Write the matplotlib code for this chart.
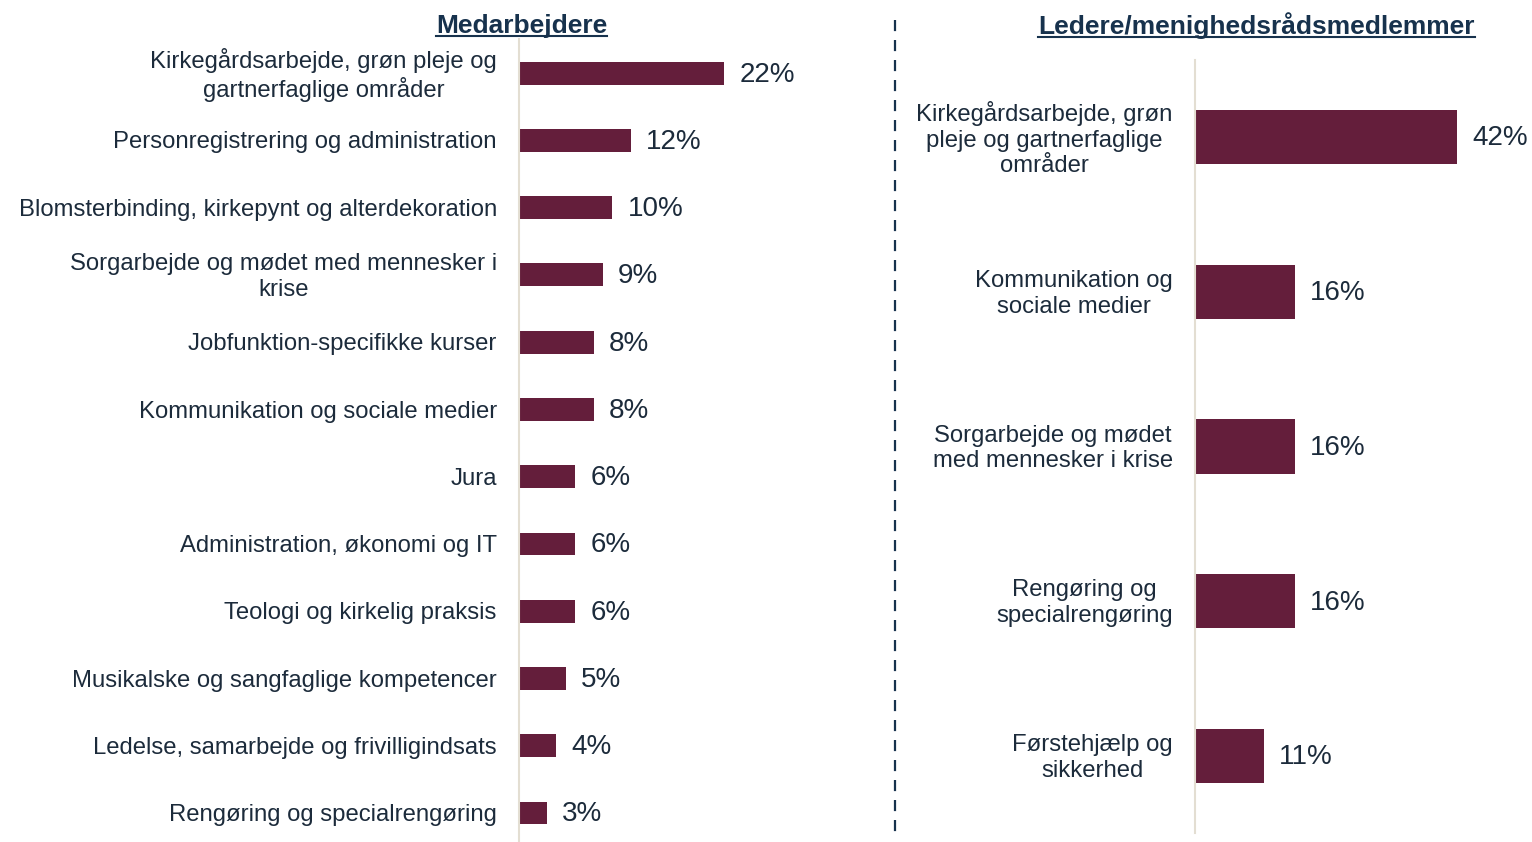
import matplotlib
matplotlib.use("Agg")
import matplotlib.pyplot as plt
from matplotlib.lines import Line2D

plt.rcParams['font.family'] = ['Liberation Sans', 'DejaVu Sans']

# data
left_title = "Medarbejdere"
left_cats = [
    "Kirkegårdsarbejde, grøn pleje og\ngartnerfaglige områder",
    "Personregistrering og administration",
    "Blomsterbinding, kirkepynt og alterdekoration",
    "Sorgarbejde og mødet med mennesker i\nkrise",
    "Jobfunktion-specifikke kurser",
    "Kommunikation og sociale medier",
    "Jura",
    "Administration, økonomi og IT",
    "Teologi og kirkelig praksis",
    "Musikalske og sangfaglige kompetencer",
    "Ledelse, samarbejde og frivilligindsats",
    "Rengøring og specialrengøring",
]
left_vals = [22, 12, 10, 9, 8, 8, 6, 6, 6, 5, 4, 3]

right_title = "Ledere/menighedsrådsmedlemmer"
right_cats = [
    "Kirkegårdsarbejde, grøn\npleje og gartnerfaglige\nområder",
    "Kommunikation og\nsociale medier",
    "Sorgarbejde og mødet\nmed mennesker i krise",
    "Rengøring og\nspecialrengøring",
    "Førstehjælp og\nsikkerhed",
]
right_vals = [42, 16, 16, 16, 11]

BAR = "#641E3B"
TXT = "#1C2B3B"
NAVY = "#17324D"
SPINE = "#E3DED2"

W, H = 1532, 842
fig = plt.figure(figsize=(W / 100, H / 100), dpi=100)


def px_axes(x0, x1, ytop, ybot):
    return fig.add_axes([x0 / W, 1 - ybot / H, (x1 - x0) / W, (ybot - ytop) / H])


def draw_panel(ax, cats, vals, xmax, height):
    y = list(range(len(cats)))
    ax.barh(y, vals, height=height, color=BAR)
    ax.set_xlim(0, xmax)
    ax.set_ylim(len(cats) - 0.5, -0.5)
    ax.set_yticks([])
    ax.set_xticks([])
    for s in ['top', 'right', 'bottom']:
        ax.spines[s].set_visible(False)
    ax.spines['left'].set_color(SPINE)
    ax.spines['left'].set_linewidth(1.5)
    # category labels
    for yi, c in zip(y, cats):
        ax.annotate(c, (0, yi), xycoords=('axes fraction', 'data'), xytext=(-16, -1.5),
                    textcoords='offset points', ha='right', va='center', ma='center',
                    fontsize=17.2, color=TXT, linespacing=1.22)
    # value labels
    for yi, v in zip(y, vals):
        ax.annotate(f"{v}%", (v, yi), xytext=(11, -1), textcoords='offset points',
                    ha='left', va='center', fontsize=20, color=TXT)
    ax.patch.set_alpha(0)


ax1 = px_axes(519, 860, 39.5, 846.6)
draw_panel(ax1, left_cats, left_vals, 341 / 9.32, 0.34)

ax2 = px_axes(1195, 1532, 59.6, 833.4)
draw_panel(ax2, right_cats, right_vals, 337 / 6.24, 0.35)

# dashed divider
fig.add_artist(Line2D([895 / W, 895 / W], [1 - 20 / H, 1 - 835 / H], color=NAVY,
                      lw=1.6, linestyle=(0, (5, 4))))

# underlined titles
titles = []
for txt, xc in [(left_title, 521.5), (right_title, 1256.5)]:
    t = fig.text(xc / W, 1 - 25.5 / H, txt, ha='center', va='center', fontsize=19,
                 fontweight='bold', color=NAVY)
    titles.append(t)

fig.canvas.draw()
r = fig.canvas.get_renderer()
for t in titles:
    bb = t.get_window_extent(r)
    yl = (bb.y0 + 2) / H
    fig.add_artist(Line2D([bb.x0 / W, bb.x1 / W], [yl, yl], color=NAVY, lw=1.5))

fig.savefig("out.png", dpi=100)
